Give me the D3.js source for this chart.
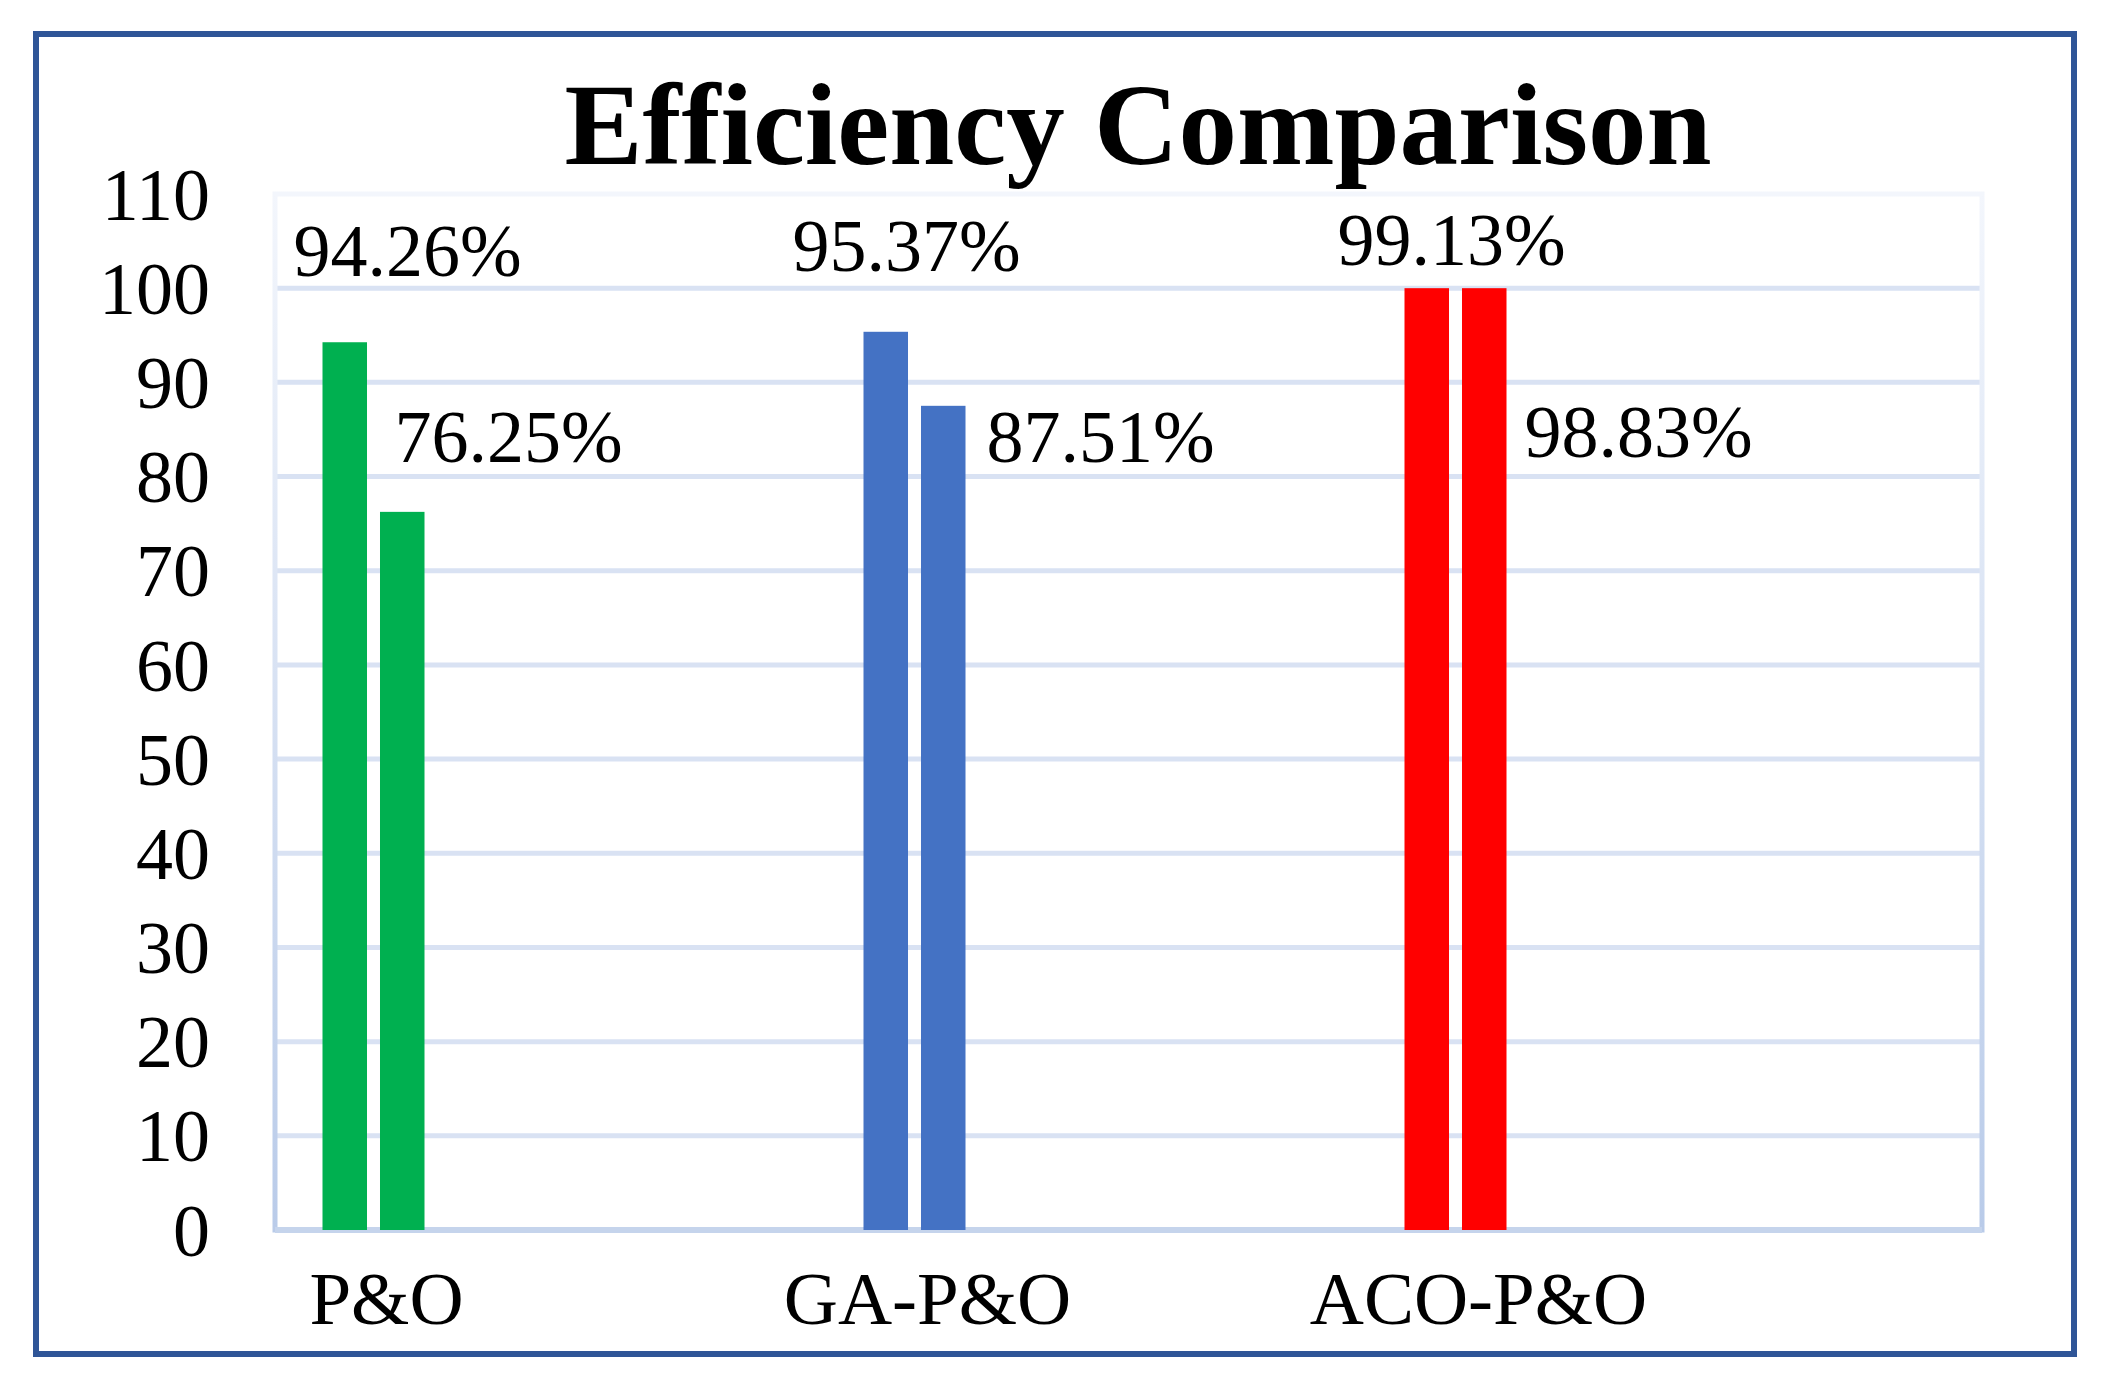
<!DOCTYPE html>
<html>
<head>
<meta charset="utf-8">
<script src="https://cdn.jsdelivr.net/npm/d3@7"></script>
<style>
  body { margin: 0; background: #fff; }
  text { font-family: "Liberation Serif", "Times New Roman", serif; fill: #000; }
</style>
</head>
<body>
<div id="chart"></div>
<script>
// data
var categories = ["P&O", "GA-P&O", "ACO-P&O"];
var seriesKeys = ["first", "second"];
var firstValues = [94.26, 95.37, 100];
var secondValues = [76.25, 87.51, 100];
var firstLabels = ["94.26%", "95.37%", "99.13%"];
var secondLabels = ["76.25%", "87.51%", "98.83%"];
var yTicks = [0, 10, 20, 30, 40, 50, 60, 70, 80, 90, 100, 110];
var barColors = ["#00B050", "#4472C4", "#FF0000"];

var svgWidth = 2124, svgHeight = 1392;
var plot = { left: 275, right: 1982, top: 194, bottom: 1230 };

var svg = d3.select("#chart").append("svg")
  .attr("width", svgWidth)
  .attr("height", svgHeight);

svg.append("rect").attr("width", svgWidth).attr("height", svgHeight).attr("fill", "#fff");

// outer frame
svg.append("rect")
  .attr("x", 36).attr("y", 34)
  .attr("width", 2038).attr("height", 1320)
  .attr("fill", "none")
  .attr("stroke", "#2F5597")
  .attr("stroke-width", 6);

var yScale = d3.scaleLinear().domain([0, 110]).range([plot.bottom, plot.top]);

var xScale = d3.scaleBand()
  .domain(categories)
  .range([295, 1918])
  .padding(0);

var xSub = d3.scaleBand()
  .domain(seriesKeys)
  .range([27.5, 129.5])
  .paddingInner(0.226)
  .paddingOuter(0);

// gradient for plot-area border
var defs = svg.append("defs");
var grad = defs.append("linearGradient")
  .attr("id", "frameGrad")
  .attr("gradientUnits", "userSpaceOnUse")
  .attr("x1", 0).attr("y1", plot.top)
  .attr("x2", 0).attr("y2", plot.bottom);
grad.append("stop").attr("offset", "0%").attr("stop-color", "#F3F6FC");
grad.append("stop").attr("offset", "100%").attr("stop-color", "#B9CBE9");

// gridlines
svg.append("g")
  .selectAll("line")
  .data(yTicks.filter(function(d) { return d > 0 && d < 110; }))
  .enter()
  .append("line")
  .attr("x1", plot.left).attr("x2", plot.right)
  .attr("y1", function(d) { return yScale(d); })
  .attr("y2", function(d) { return yScale(d); })
  .attr("stroke", "#D9E2F3")
  .attr("stroke-width", 5);

// plot area border
svg.append("rect")
  .attr("x", plot.left).attr("y", plot.top)
  .attr("width", plot.right - plot.left)
  .attr("height", plot.bottom - plot.top)
  .attr("fill", "none")
  .attr("stroke", "url(#frameGrad)")
  .attr("stroke-width", 5);

svg.append("line")
  .attr("x1", plot.left).attr("x2", plot.right)
  .attr("y1", plot.bottom).attr("y2", plot.bottom)
  .attr("stroke", "#C5D4EC")
  .attr("stroke-width", 6);

// y axis labels
var yAxis = d3.axisLeft(yScale)
  .tickValues(yTicks)
  .tickSize(0)
  .tickPadding(0);

var yAxisG = svg.append("g")
  .attr("transform", "translate(210,0)")
  .call(yAxis);
yAxisG.select(".domain").remove();
yAxisG.selectAll("text")
  .attr("font-family", "Liberation Serif, Times New Roman, serif")
  .attr("font-size", 74)
  .attr("fill", "#000")
  .attr("dy", "0.34em");

// bars
var rows = categories.map(function(c, i) {
  return { cat: c, i: i, first: firstValues[i], second: secondValues[i] };
});

var groups = svg.selectAll(".group")
  .data(rows)
  .enter()
  .append("g")
  .attr("class", "group")
  .attr("transform", function(d) { return "translate(" + xScale(d.cat) + ",0)"; });

groups.selectAll("rect")
  .data(function(d) {
    return seriesKeys.map(function(k) { return { key: k, value: d[k], i: d.i }; });
  })
  .enter()
  .append("rect")
  .attr("x", function(d) { return xSub(d.key); })
  .attr("width", xSub.bandwidth())
  .attr("y", function(d) { return yScale(d.value); })
  .attr("height", function(d) { return yScale(0) - yScale(d.value); })
  .attr("fill", function(d) { return barColors[d.i]; });

// value labels (text boxes sit loosely around the bars)
var firstDx = [-29, -71, -67];
var firstY = [276, 271, 265];
var secondDx = [-30, 21, 18];
var secondY = [462, 462, 457];

svg.append("g")
  .selectAll("text")
  .data(firstLabels)
  .enter()
  .append("text")
  .attr("x", function(d, i) { return xScale(categories[i]) + xSub("first") + firstDx[i]; })
  .attr("y", function(d, i) { return firstY[i]; })
  .attr("font-size", 74)
  .text(function(d) { return d; });

svg.append("g")
  .selectAll("text")
  .data(secondLabels)
  .enter()
  .append("text")
  .attr("x", function(d, i) {
    return xScale(categories[i]) + xSub("second") + xSub.bandwidth() + secondDx[i];
  })
  .attr("y", function(d, i) { return secondY[i]; })
  .attr("font-size", 74)
  .text(function(d) { return d; });

// category labels
var catDx = [64, 64, 74];
svg.append("g")
  .selectAll("text")
  .data(categories)
  .enter()
  .append("text")
  .attr("x", function(d, i) { return xScale(d) + xSub("first") + catDx[i]; })
  .attr("y", 1324)
  .attr("text-anchor", "middle")
  .attr("font-size", 75)
  .text(function(d) { return d; });

// title
svg.append("text")
  .attr("x", 1138)
  .attr("y", 164)
  .attr("text-anchor", "middle")
  .attr("font-size", 117)
  .attr("font-weight", "bold")
  .text("Efficiency Comparison");
</script>
</body>
</html>
